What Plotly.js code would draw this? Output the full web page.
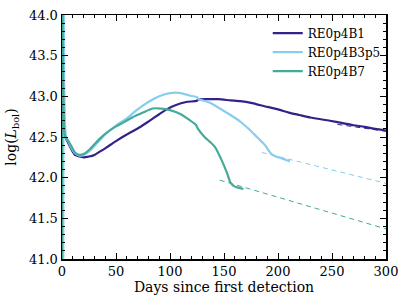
<!DOCTYPE html>
<html>
<head>
<meta charset="utf-8">
<script src="https://cdn.plot.ly/plotly-3.0.1.min.js"></script>
<style>html,body{margin:0;padding:0;background:#fff;}#chart{width:407px;height:305px;}</style>
</head>
<body>
<div id="chart"></div>
<script>
// RE0p4B1
const b1Days = [0, 0.3, 0.8, 1.5, 2.5, 4, 6, 9, 12, 16, 20, 25, 30, 35, 41, 50, 60, 72, 80, 90, 97, 105, 115, 125, 126, 135, 145, 156, 165, 175, 190, 200, 210, 220, 230, 248, 260, 270, 280, 290, 300];
const b1L = [40.5, 44.5, 43.6, 42.85, 42.55, 42.47, 42.42, 42.34, 42.28, 42.26, 42.25, 42.26, 42.28, 42.32, 42.37, 42.45, 42.53, 42.62, 42.69, 42.78, 42.84, 42.89, 42.93, 42.945, 42.96, 42.965, 42.965, 42.95, 42.94, 42.92, 42.87, 42.84, 42.8, 42.77, 42.74, 42.7, 42.67, 42.645, 42.625, 42.6, 42.58];
const b1FitDays = [255, 300];
const b1FitL = [42.655, 42.57];
// RE0p4B3p5
const b3Days = [1.2, 1.5, 2, 3, 4, 6, 9, 12, 16, 20, 25, 30, 35, 40, 50, 60, 70, 80, 90, 100, 110, 118, 125, 126, 137, 145, 156, 165, 172, 179, 185, 188, 191, 194, 198, 203, 209, 211];
const b3L = [40.5, 44.5, 43.2, 42.6, 42.48, 42.44, 42.36, 42.3, 42.27, 42.28, 42.32, 42.39, 42.46, 42.53, 42.64, 42.73, 42.84, 42.93, 43.0, 43.04, 43.04, 43.01, 42.99, 42.97, 42.92, 42.86, 42.77, 42.69, 42.61, 42.52, 42.44, 42.40, 42.34, 42.29, 42.26, 42.24, 42.21, 42.20];
const b3FitDays = [185, 300];
const b3FitL = [42.31, 41.93];
// RE0p4B7
const b7Days = [0, 0.2, 0.8, 1.5, 2.5, 4, 6, 9, 12, 16, 20, 25, 30, 35, 40, 50, 57, 65, 75, 84, 92, 100, 110, 118, 124, 125.5, 132, 137, 142, 148, 153, 156, 160, 164, 168];
const b7L = [40.5, 44.5, 43.5, 42.8, 42.52, 42.48, 42.45, 42.38, 42.31, 42.28, 42.29, 42.34, 42.41, 42.48, 42.54, 42.63, 42.68, 42.74, 42.8, 42.85, 42.85, 42.83, 42.78, 42.71, 42.65, 42.61, 42.5, 42.44, 42.37, 42.21, 42.05, 41.94, 41.89, 41.875, 41.86];
const b7FitDays = [146, 300];
const b7FitL = [41.97, 41.37];

const names = ['RE0p4B1', 'RE0p4B3p5', 'RE0p4B7'];
const colors = ['#332288', '#88CCEE', '#44AA99'];

const FONT = 'DejaVu Serif';

const mainLine = (c) => ({color: c, width: 2.2, shape: 'spline', smoothing: 0.6});

const traces = [
  {x: b1Days, y: b1L, name: names[0], mode: 'lines', line: mainLine(colors[0])},
  {x: b3Days, y: b3L, name: names[1], mode: 'lines', line: mainLine(colors[1])},
  {x: b7Days, y: b7L, name: names[2], mode: 'lines', line: mainLine(colors[2])},
  {x: b1FitDays, y: b1FitL, mode: 'lines', showlegend: false, line: {color: colors[0], width: 1, dash: '5px,4px'}},
  {x: b3FitDays, y: b3FitL, mode: 'lines', showlegend: false, line: {color: colors[1], width: 1, dash: '5px,4px'}},
  {x: b7FitDays, y: b7FitL, mode: 'lines', showlegend: false, line: {color: colors[2], width: 1, dash: '5px,4px'}}
];

const axisCommon = {
  showgrid: false, zeroline: false, showline: true, linecolor: '#000', linewidth: 1.5,
  mirror: 'allticks', ticks: 'inside', ticklen: 6, tickwidth: 1, tickcolor: '#000',
  tickfont: {family: FONT, size: 13, color: '#000'}
};

const layout = {
  width: 407, height: 305,
  margin: {l: 62, r: 21, t: 15, b: 46},
  paper_bgcolor: '#fff', plot_bgcolor: '#fff',
  font: {family: FONT, color: '#000', size: 13},
  showlegend: true,
  legend: {x: 0.635, y: 0.985, xanchor: 'left', yanchor: 'top', bgcolor: 'rgba(0,0,0,0)', borderwidth: 0,
           font: {family: FONT, size: 12, color: '#000'}},
  xaxis: Object.assign({}, axisCommon, {
    range: [0, 300], dtick: 50, tick0: 0,
    minor: {dtick: 10, ticks: 'inside', ticklen: 3, tickwidth: 1, tickcolor: '#000', showgrid: false},
    title: {text: 'Days since first detection', font: {family: FONT, size: 14, color: '#000'}, standoff: 4}
  }),
  yaxis: Object.assign({}, axisCommon, {
    range: [41, 44], dtick: 0.5, tick0: 41, tickformat: '.1f',
    minor: {dtick: 0.1, ticks: 'inside', ticklen: 3, tickwidth: 1, tickcolor: '#000', showgrid: false},
    title: {text: 'log(<i>L</i><sub>bol</sub>)', font: {family: FONT, size: 14, color: '#000'}, standoff: 9}
  })
};

Plotly.newPlot('chart', traces, layout, {staticPlot: true, displayModeBar: false});
</script>
</body>
</html>
